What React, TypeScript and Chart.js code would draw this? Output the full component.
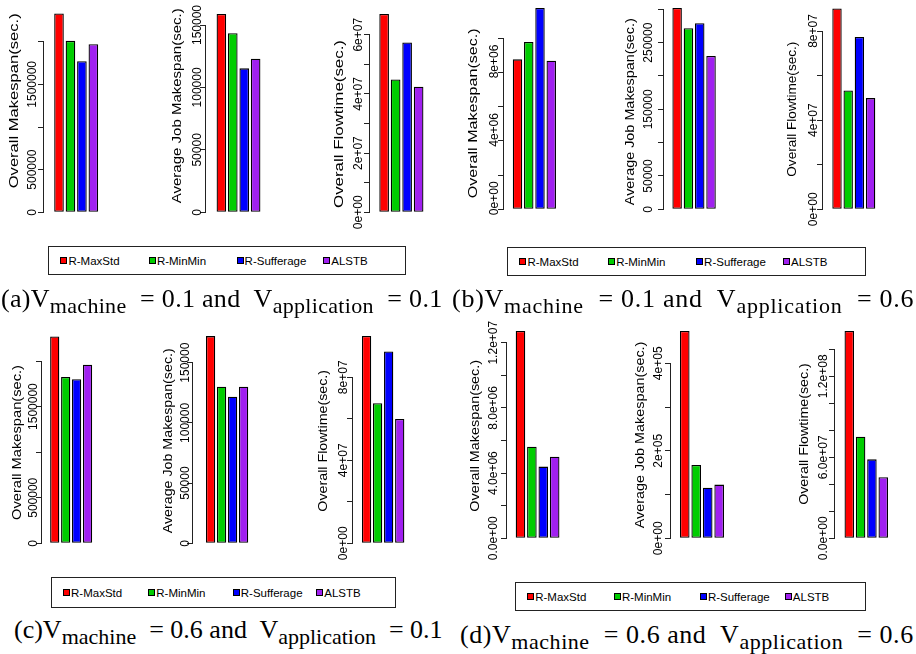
import React, { useEffect, useRef } from 'react';
import { Chart, registerables } from 'chart.js';

Chart.register(...registerables);

const SANS = '"Liberation Sans", Arial, sans-serif';
const SERIF = '"Liberation Serif", "Times New Roman", serif';

const METHODS = ['R-MaxStd', 'R-MinMin', 'R-Sufferage', 'ALSTB'];
const COLORS = ['#FF0000', '#00CD00', '#0000FF', '#A020F0'];

const TITLE_MAKESPAN = 'Overall Makespan(sec.)';
const TITLE_AVGJOB = 'Average Job Makespan(sec.)';
const TITLE_FLOW = 'Overall Flowtime(sec.)';

// (a) Vmachine = 0.1, Vapplication = 0.1
const A_MAKESPAN = [2330000, 2010000, 1770000, 1970000];
const A_AVGJOB = [158900, 143400, 115300, 123000];
const A_FLOW = [67000000, 44900000, 57400000, 42400000];
const A_MAKESPAN_TICKS = ['0', '500000', '', '1500000', ''];
const A_AVGJOB_TICKS = ['0', '50000', '100000', '150000'];
const A_FLOW_TICKS = ['0e+00', '', '2e+07', '', '4e+07', '', '6e+07'];

// (b) Vmachine = 0.1, Vapplication = 0.6
const B_MAKESPAN = [8770000, 9790000, 11770000, 8690000];
const B_AVGJOB = [302000, 271500, 279000, 230000];
const B_FLOW = [90100000, 53300000, 77300000, 49900000];
const B_MAKESPAN_TICKS = ['0e+00', '', '4e+06', '', '8e+06', ''];
const B_AVGJOB_TICKS = ['0', '50000', '', '150000', '', '250000', ''];
const B_FLOW_TICKS = ['0e+00', '', '4e+07', '', '8e+07'];

// (c) Vmachine = 0.6, Vapplication = 0.1
const C_MAKESPAN = [2270000, 1825000, 1800000, 1960000];
const C_AVGJOB = [172100, 130000, 121700, 130000];
const C_FLOW = [99900000, 67500000, 92400000, 59900000];
const C_MAKESPAN_TICKS = ['0', '500000', '', '1500000', ''];
const C_AVGJOB_TICKS = ['0', '50000', '100000', '150000'];
const C_FLOW_TICKS = ['0e+00', '', '4e+07', '', '8e+07'];

// (d) Vmachine = 0.6, Vapplication = 0.6
const D_MAKESPAN = [12720000, 5620000, 4400000, 5010000];
const D_AVGJOB = [474000, 167600, 115800, 122700];
const D_FLOW = [153600000, 75300000, 58500000, 45200000];
const D_MAKESPAN_TICKS = ['0.0e+00', '', '4.0e+06', '', '8.0e+06', '', '1.2e+07'];
const D_AVGJOB_TICKS = ['0e+00', '', '2e+05', '', '4e+05'];
const D_FLOW_TICKS = ['0.0e+00', '', '', '6.0e+07', '', '', '1.2e+08', ''];

type Spec = {
  title: string;
  values: number[];
  ticks: string[];
  step: number;
  canvasTop: number;
  axisX: number;
  baseY: number;
  topY: number;
  firstX: number;
  pitch: number;
  titleDx: number;
  titleCy: number;
  titleLen: number;
  labelDx: number;
  labelOffset?: number;
};

const AXW = 46;
const TICK_LEN = 5;
const TICK_FONT_SIZE = 12;
const TITLE_FONT_SIZE = 13;
const BOTTOM_PAD = 30;

const SPECS: Spec[] = [
  { title: TITLE_MAKESPAN, values: A_MAKESPAN, ticks: A_MAKESPAN_TICKS, step: 500000, canvasTop: 0, axisX: 43, baseY: 212.3, topY: 41.7, firstX: 53, pitch: 15.27, titleDx: 29, titleCy: 100.8, titleLen: 175, labelDx: 10 },
  { title: TITLE_AVGJOB, values: A_AVGJOB, ticks: A_AVGJOB_TICKS, step: 50000, canvasTop: 0, axisX: 205, baseY: 212.3, topY: 25, firstX: 215.5, pitch: 15.23, titleDx: 27.5, titleCy: 105.8, titleLen: 195, labelDx: 7.5 },
  { title: TITLE_FLOW, values: A_FLOW, ticks: A_FLOW_TICKS, step: 10000000, canvasTop: 0, axisX: 369, baseY: 212.3, topY: 34.7, firstX: 378, pitch: 15.33, titleDx: 30, titleCy: 124, titleLen: 168, labelDx: 10 },
  { title: TITLE_MAKESPAN, values: B_MAKESPAN, ticks: B_MAKESPAN_TICKS, step: 2000000, canvasTop: 0, axisX: 503, baseY: 209.3, topY: 38.3, firstX: 511.5, pitch: 15, titleDx: 30, titleCy: 113.3, titleLen: 170, labelDx: 8, labelOffset: -11 },
  { title: TITLE_AVGJOB, values: B_AVGJOB, ticks: B_AVGJOB_TICKS, step: 50000, canvasTop: 0, axisX: 663.3, baseY: 209.3, topY: 9.3, firstX: 671.3, pitch: 15.07, titleDx: 32.5, titleCy: 111.7, titleLen: 187, labelDx: 14 },
  { title: TITLE_FLOW, values: B_FLOW, ticks: B_FLOW_TICKS, step: 20000000, canvasTop: 0, axisX: 821.7, baseY: 209.3, topY: 31, firstX: 830.7, pitch: 14.93, titleDx: 30, titleCy: 109.2, titleLen: 135, labelDx: 8.3 },
  { title: TITLE_MAKESPAN, values: C_MAKESPAN, ticks: C_MAKESPAN_TICKS, step: 500000, canvasTop: 314, axisX: 40.7, baseY: 543.3, topY: 361, firstX: 48.5, pitch: 14.6, titleDx: 24, titleCy: 442.5, titleLen: 155, labelDx: 7.3 },
  { title: TITLE_AVGJOB, values: C_AVGJOB, ticks: C_AVGJOB_TICKS, step: 50000, canvasTop: 314, axisX: 191.7, baseY: 543.3, topY: 362.7, firstX: 205, pitch: 14.67, titleDx: 23.3, titleCy: 440.8, titleLen: 185, labelDx: 6 },
  { title: TITLE_FLOW, values: C_FLOW, ticks: C_FLOW_TICKS, step: 20000000, canvasTop: 314, axisX: 351.7, baseY: 543.3, topY: 377.3, firstX: 360.3, pitch: 14.73, titleDx: 29, titleCy: 440.8, titleLen: 141.7, labelDx: 8.3 },
  { title: TITLE_MAKESPAN, values: D_MAKESPAN, ticks: D_MAKESPAN_TICKS, step: 2000000, canvasTop: 314, axisX: 506, baseY: 538.3, topY: 342.7, firstX: 514.3, pitch: 15.2, titleDx: 30.2, titleCy: 435.8, titleLen: 151.7, labelDx: 12.7 },
  { title: TITLE_AVGJOB, values: D_AVGJOB, ticks: D_AVGJOB_TICKS, step: 100000, canvasTop: 314, axisX: 670, baseY: 538.3, topY: 363.3, firstX: 678.5, pitch: 15.3, titleDx: 29.2, titleCy: 435, titleLen: 186.7, labelDx: 11.7 },
  { title: TITLE_FLOW, values: D_FLOW, ticks: D_FLOW_TICKS, step: 20000000, canvasTop: 314, axisX: 834, baseY: 538.3, topY: 349.3, firstX: 843.2, pitch: 15.1, titleDx: 30, titleCy: 434, titleLen: 141.7, labelDx: 10.7 },
];

function fontString(size: number) {
  return `normal ${size}px ${SANS}`;
}

function widestLabel(labels: string[], size: number) {
  const c = document.createElement('canvas').getContext('2d')!;
  c.font = fontString(size);
  return Math.max(...labels.map((l) => c.measureText(l).width));
}

const rTitlePlugin = {
  id: 'rTitle',
  afterDraw(chart: any, _args: any, opts: any) {
    const { ctx, chartArea } = chart;
    ctx.save();
    ctx.font = fontString(opts.size);
    const w = ctx.measureText(opts.text).width;
    const sx = opts.len / w;
    ctx.translate(chartArea.left - opts.dx, opts.cy);
    ctx.rotate(-Math.PI / 2);
    ctx.scale(sx, 1);
    ctx.textAlign = 'center';
    ctx.textBaseline = 'middle';
    ctx.fillStyle = '#000';
    ctx.fillText(opts.text, 0, 0);
    ctx.restore();
  },
};

function geometry(s: Spec) {
  const lead = s.firstX - s.axisX;
  const plotW = lead + 3 * s.pitch + s.pitch / 2 + 4;
  const left = s.axisX - AXW;
  const width = Math.ceil(AXW + plotW);
  const height = Math.ceil(s.baseY - s.canvasTop + BOTTOM_PAD);
  const padBottom = s.canvasTop + height - s.baseY;
  const padTop = s.topY - s.canvasTop;
  const xmin = -lead / s.pitch;
  const xmax = xmin + (width - AXW) / s.pitch;
  return { left, width, height, padBottom, padTop, xmin, xmax };
}

function BarChart({ spec }: { spec: Spec }) {
  const ref = useRef<HTMLCanvasElement>(null);
  const g = geometry(spec);
  useEffect(() => {
    const widest = widestLabel(spec.ticks, TICK_FONT_SIZE);
    const padding = spec.labelDx - TICK_LEN - widest / 2;
    const chart = new Chart(ref.current!, {
      type: 'bar',
      data: {
        datasets: [
          {
            label: spec.title,
            data: spec.values.map((v, i) => ({ x: i, y: v })),
            backgroundColor: COLORS,
            borderColor: '#000',
            borderWidth: 1.3,
            borderSkipped: false,
            barPercentage: 0.84,
            categoryPercentage: 1,
            clip: false as any,
          } as any,
        ],
      },
      options: {
        animation: false,
        responsive: false,
        maintainAspectRatio: false,
        devicePixelRatio: 1,
        layout: { padding: { top: g.padTop, bottom: g.padBottom, left: 0, right: 0 } },
        plugins: {
          legend: { display: false },
          tooltip: { enabled: false },
          rTitle: { text: spec.title, size: TITLE_FONT_SIZE, dx: spec.titleDx, cy: spec.titleCy - spec.canvasTop, len: spec.titleLen },
        } as any,
        scales: {
          x: {
            type: 'linear',
            display: false,
            min: g.xmin,
            max: g.xmax,
            ticks: { stepSize: 1, includeBounds: false },
          },
          y: {
            type: 'linear',
            min: 0,
            max: spec.step * (spec.ticks.length - 1),
            afterFit: (s: any) => {
              s.width = AXW;
            },
            ticks: {
              stepSize: spec.step,
              autoSkip: false,
              includeBounds: false,
              minRotation: 90,
              maxRotation: 90,
              crossAlign: 'center',
              padding,
              labelOffset: spec.labelOffset || 0,
              color: '#000',
              font: { family: SANS, size: TICK_FONT_SIZE },
              callback: (_v: any, i: number) => spec.ticks[i] ?? '',
            },
            grid: { display: true, drawOnChartArea: false, drawTicks: true, tickLength: TICK_LEN, color: '#222', lineWidth: 1 },
            border: { display: true, color: '#222', width: 1 },
            title: { display: false },
          },
        },
      } as any,
      plugins: [rTitlePlugin],
    });
    return () => chart.destroy();
  }, []);
  return (
    <canvas
      ref={ref}
      width={g.width}
      height={g.height}
      style={{ position: 'absolute', left: g.left, top: spec.canvasTop, width: g.width, height: g.height }}
    />
  );
}

const LEGEND_POS = [0.032, 0.279, 0.524, 0.766];

function Legend({ left, top, width, height }: { left: number; top: number; width: number; height: number }) {
  return (
    <div
      style={{
        position: 'absolute',
        left,
        top,
        width,
        height,
        border: '1px solid #222',
        boxSizing: 'border-box',
        background: '#fff',
      }}
    >
      {METHODS.map((m, i) => (
        <div
          key={m}
          style={{
            position: 'absolute',
            left: LEGEND_POS[i] * width,
            top: 0,
            height: '100%',
            display: 'flex',
            alignItems: 'center',
            fontFamily: SANS,
            fontSize: 11.5,
            color: '#000',
            whiteSpace: 'pre',
          }}
        >
          <span
            style={{
              display: 'inline-block',
              width: 7,
              height: 7,
              boxSizing: 'border-box',
              background: COLORS[i],
              border: '1px solid #000',
              marginRight: 1,
            }}
          />
          {m}
        </div>
      ))}
    </div>
  );
}

function Caption({ left, top, letter, vm, va, spacing }: { left: number; top: number; letter: string; vm: string; va: string; spacing: number }) {
  const sub: React.CSSProperties = { fontSize: 22, verticalAlign: -6 };
  return (
    <div
      style={{
        position: 'absolute',
        left,
        top,
        fontFamily: SERIF,
        fontSize: 26,
        lineHeight: '30px',
        whiteSpace: 'pre',
        color: '#000',
        letterSpacing: spacing,
      }}
    >
      {`(${letter})V`}
      <span style={sub}>machine</span>
      {`  = ${vm} and  V`}
      <span style={sub}>application</span>
      {`  = ${va}`}
    </div>
  );
}

export default function App() {
  return (
    <div style={{ position: 'absolute', left: 0, top: 0, width: 916, height: 654, background: '#fff', overflow: 'hidden' }}>
      {SPECS.map((s, i) => (
        <BarChart key={i} spec={s} />
      ))}
      <Legend left={48} top={246} width={358} height={29} />
      <Legend left={507} top={247} width={359} height={29} />
      <Legend left={51} top={577} width={345} height={31} />
      <Legend left={515} top={582} width={351} height={29} />
      <Caption left={1} top={284} letter="a" vm="0.1" va="0.1" spacing={0.3} />
      <Caption left={452} top={284} letter="b" vm="0.1" va="0.6" spacing={0.75} />
      <Caption left={14} top={615} letter="c" vm="0.6" va="0.1" spacing={0} />
      <Caption left={460} top={620} letter="d" vm="0.6" va="0.6" spacing={0.55} />
    </div>
  );
}
